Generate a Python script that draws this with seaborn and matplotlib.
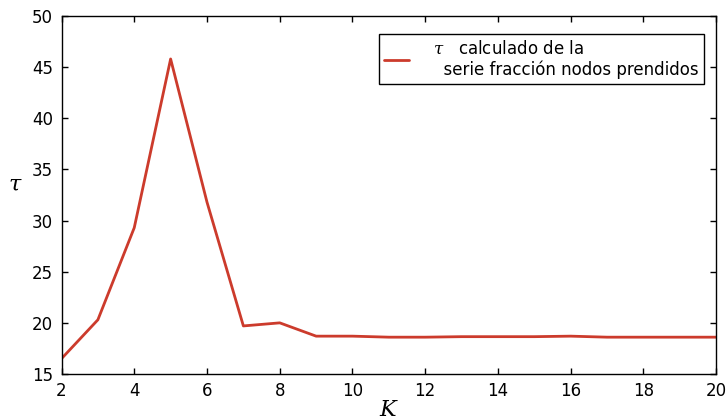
import matplotlib
matplotlib.use("Agg")
import matplotlib.pyplot as plt
import seaborn as sns
import pandas as pd

K = [2, 3, 4, 5, 6, 7, 8, 9, 10, 11, 12, 13, 14, 15, 16, 17, 18, 19, 20]
tau = [16.5, 20.3, 29.3, 45.8, 31.8, 19.7, 20.0, 18.7, 18.7, 18.6, 18.6, 18.65, 18.65, 18.65, 18.7, 18.6, 18.6, 18.6, 18.6]
label = "$\\tau$   calculado de la\n  serie fracción nodos prendidos"

sns.set_style("ticks", {"text.color": "black", "axes.labelcolor": "black",
                        "xtick.color": "black", "ytick.color": "black",
                        "axes.edgecolor": "black"})
plt.rcParams['font.family'] = ['DejaVu Sans']
plt.rcParams['mathtext.fontset'] = 'dejavuserif'

df = pd.DataFrame({"K": K, "tau": tau})
fig = plt.figure(figsize=(7.27, 4.19), dpi=100)
ax = fig.add_axes([0.0846, 0.1074, 0.9006, 0.8544])
sns.lineplot(data=df, x="K", y="tau", ax=ax, color="#cc3b2c", linewidth=2, label=label)
ax.set_xlim(2, 20)
ax.set_ylim(15, 50)
ax.set_xticks(range(2, 21, 2))
ax.set_yticks(range(15, 51, 5))
ax.tick_params(direction="in", top=True, right=True, labelsize=12, length=4, width=1, pad=6,
               colors="black")
for s in ax.spines.values():
    s.set_linewidth(1)
    s.set_color("black")
ax.set_xlabel("$K$", fontsize=16, labelpad=0)
ax.set_ylabel("$\\tau$", fontsize=16, rotation=0, labelpad=12)
leg = ax.legend(loc="upper right", bbox_to_anchor=(0.982, 0.95), borderaxespad=0,
                fontsize=12, frameon=True, fancybox=False, edgecolor="black",
                framealpha=1, handlelength=1.5, handletextpad=1.45, borderpad=0.33,
                labelspacing=0.3)
leg.get_frame().set_linewidth(1)
fig.savefig("out.png", dpi=100)
